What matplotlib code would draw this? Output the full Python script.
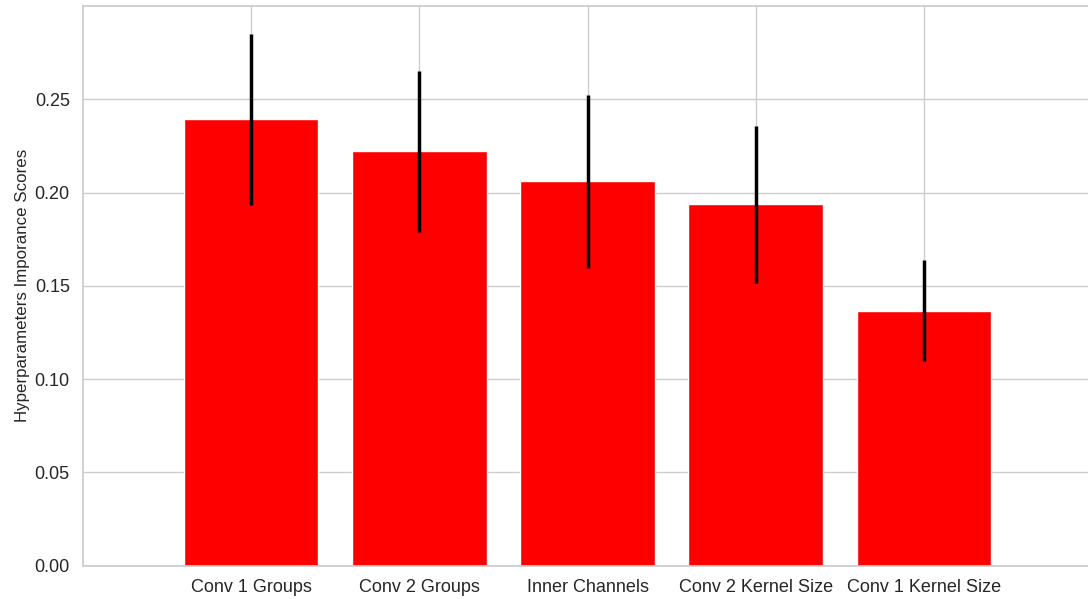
import matplotlib
matplotlib.use("Agg")
import matplotlib.pyplot as plt
import seaborn as sns

# hyperparameter importance (mean and std over runs)
params = ["Conv 1 Groups", "Conv 2 Groups", "Inner Channels",
          "Conv 2 Kernel Size", "Conv 1 Kernel Size"]
importance = [0.2392, 0.2221, 0.2060, 0.1937, 0.1367]
importance_std = [0.0459, 0.0430, 0.0463, 0.0421, 0.0271]

sns.set_theme(style="whitegrid")
plt.rcParams["font.family"] = ["Liberation Sans", "DejaVu Sans"]

fig = plt.figure(figsize=(10.88, 5.99), dpi=100)
ax = fig.add_axes([0.0763, 0.0555, 0.9274, 0.9345])

x = list(range(len(params)))
ax.bar(x, importance, yerr=importance_std, color="red", width=0.8,
       error_kw=dict(ecolor="black", elinewidth=2.5, capsize=0))
ax.set_xticks(x)
ax.set_xticklabels(params, fontsize=13)
ax.tick_params(axis="y", labelsize=13)
ax.set_xlim(-1.0, 5.0)
ax.set_ylim(0, 0.30)
ax.set_yticks([0.0, 0.05, 0.10, 0.15, 0.20, 0.25])
ax.set_yticklabels(["0.00", "0.05", "0.10", "0.15", "0.20", "0.25"])
ax.set_ylabel("Hyperparameters Imporance Scores", fontsize=12.2, labelpad=3)

fig.savefig("out.png", dpi=100)
